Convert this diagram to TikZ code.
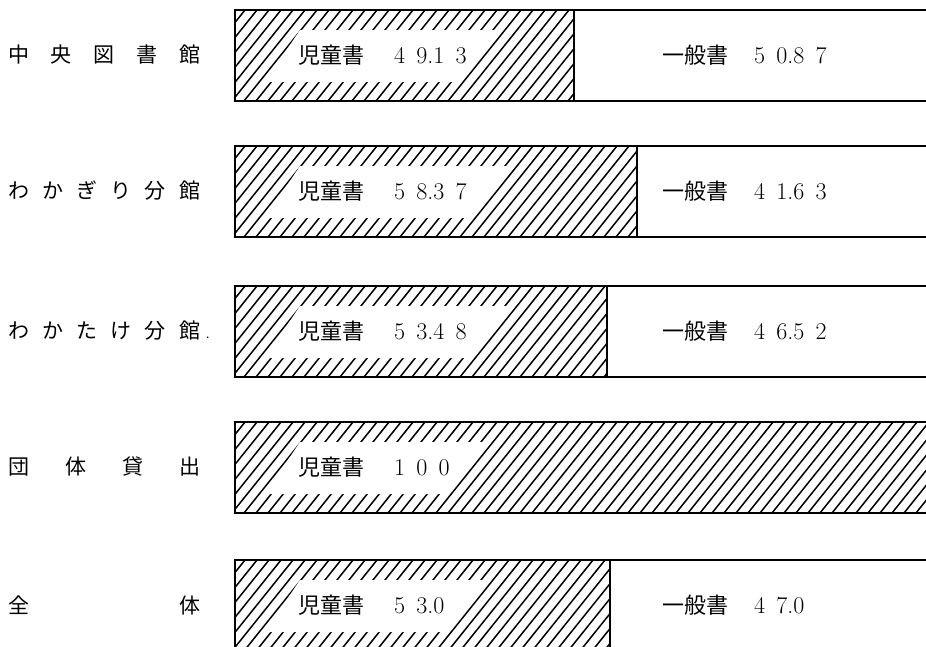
\documentclass[tikz,border=0pt]{standalone}
\usepackage{fontspec}
\newfontfamily\jp{Noto Sans CJK JP}
\usetikzlibrary{positioning}

\begin{document}
\begin{tikzpicture}[x=1pt, y=-1pt, every node/.style={inner sep=0pt},
    frame/.style={line width=1.8pt}, hatch/.style={line width=1.5pt},
    branchtext/.style={anchor=west, font=\jp\fontsize{21}{24}\selectfont},
    sharetext/.style={anchor=west, font=\fontsize{24}{28}\selectfont}]
    \useasboundingbox (0,0) rectangle (926,646);

    \foreach \i/\top/\div/\gap/\branch/\kid/\adult in {
        1/10/574/483/中\hfill 央\hfill 図\hfill 書\hfill 館/4\,\ 9.1\,\ 3/5\,\ 0.8\,\ 7,
        2/146/637/487/わ\hfill か\hfill ぎ\hfill り\hfill 分\hfill 館/5\,\ 8.3\,\ 7/4\,\ 1.6\,\ 3,
        3/286/607/490/わ\hfill か\hfill た\hfill け\hfill 分\hfill 館\rlap{\hspace{6pt}\fontsize{12}{12}\selectfont.}/5\,\ 3.4\,\ 8/4\,\ 6.5\,\ 2,
        4/422/926/470/団\hfill 体\hfill 貸\hfill 出/1\,\ 0\,\ 0/,
        5/560/610/467/全\hfill 体/5\,\ 3.0/4\,\ 7.0}
    {
        \begin{scope}
            \clip (235,\top) rectangle (\div,\top+91);
            \foreach \x in {100,112,...,940} \draw[hatch] (\x,\top+91) -- ++(73,-91);
        \end{scope}
        \fill[white] (265,\top+72) -- (300,\top+20) -- (\gap+20,\top+20) -- (\gap-22,\top+72) -- cycle;
        \draw[frame] (926,\top) -- (235,\top) -- (235,\top+91) -- (926,\top+91);
        \node[branchtext] (branch\i) at (8,\top+45) {\makebox[192pt]{\branch}};
        \node[sharetext] (kid\i) at (298,\top+45) {{\jp\fontsize{22}{26}\selectfont 児童書}\hspace{30pt}\kid};
        \ifnum\div<900
            \draw[frame] (\div,\top) -- (\div,\top+91);
            \node[sharetext] (adult\i) at (662,\top+45) {{\jp\fontsize{22}{26}\selectfont 一般書}\hspace{26pt}\adult};
        \fi
    }
\end{tikzpicture}
\end{document}
